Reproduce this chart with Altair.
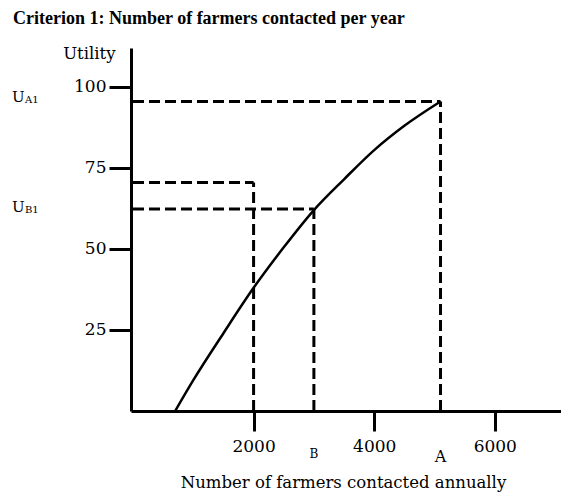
import altair as alt
import pandas as pd

# curve: number of farmers contacted annually vs utility
farmers = [700, 1000, 1500, 2000, 2500, 3000, 3500, 4000, 4500, 5100]
utility = [0, 9.5, 24, 38, 50.5, 62, 71.5, 80.5, 88, 95.5]

# reference lines (x value, utility level)
ref_x = [5100, 2000, 3000]
ref_u = [95.5, 70.5, 62.3]

y_ticks = [25, 50, 75, 100]
x_ticks = [2000, 4000, 6000]

u_labels = [("U", "A1", 97), ("U", "B1", 63)]
x_letters = [("B", 3000, 12, 406), ("A", 5100, 16, 409)]

X0 = -33
XMAX = 7098
YMAX = 112
SERIF = "DejaVu Serif"
TSERIF = "Liberation Serif"

curve_df = pd.DataFrame({"x": farmers, "u": utility})

segs = []
for xv, uv in zip(ref_x, ref_u):
    segs.append({"x": 0, "x2": xv, "y": uv, "y2": uv})
    segs.append({"x": xv, "x2": xv, "y": 0, "y2": uv})
seg_df = pd.DataFrame(segs)

xs = alt.Scale(domain=[X0, XMAX], nice=False, zero=False)
ys = alt.Scale(domain=[0, YMAX], nice=False)

curve = alt.Chart(curve_df).mark_line(
    color="black", strokeWidth=2.5, interpolate="monotone"
).encode(
    x=alt.X("x:Q", scale=xs, axis=alt.Axis(
        values=x_ticks, format="d", grid=False, tickSize=20, tickWidth=3,
        domainWidth=3, domainColor="black", tickColor="black", labelColor="black",
        labelFont=SERIF, labelFontSize=17, labelPadding=7,
        title="Number of farmers contacted annually", titleFont=SERIF,
        titleFontSize=16.5, titleFontWeight="normal", titleColor="black",
        titleX=212, titleY=71, titleBaseline="middle", titleAnchor="middle")),
    y=alt.Y("u:Q", scale=ys, axis=alt.Axis(
        values=y_ticks, grid=False, tickSize=22, tickWidth=3, domainWidth=3,
        domainColor="black", tickColor="black", labelColor="black",
        labelFont=SERIF, labelFontSize=17, labelPadding=3,
        title="Utility", titleAngle=0, titleAlign="right", titleX=-16, titleY=5,
        titleBaseline="middle", titleFont=SERIF, titleFontSize=16.5,
        titleFontWeight="normal", titleColor="black")),
)

dashed = alt.Chart(seg_df).mark_rule(
    color="black", strokeWidth=3, strokeDash=[11, 5]
).encode(x="x:Q", x2="x2:Q", y="y:Q", y2="y2:Q")

ulab_df = pd.DataFrame([{"main": a, "sub": b, "u": c} for a, b, c in u_labels])
u_main = alt.Chart(ulab_df).mark_text(
    font=SERIF, fontSize=15, color="black", align="left", baseline="middle"
).encode(x=alt.value(-119), y=alt.Y("u:Q", scale=ys), text="main:N")
u_sub = alt.Chart(ulab_df).mark_text(
    font=SERIF, fontSize=10, color="black", align="left", baseline="middle", dy=3
).encode(x=alt.value(-106), y=alt.Y("u:Q", scale=ys), text="sub:N")

let_df = pd.DataFrame([{"t": a, "x": b, "s": c, "yp": d} for a, b, c, d in x_letters])
letters = alt.Chart(let_df).mark_text(
    font=SERIF, color="black", baseline="middle"
).encode(x=alt.X("x:Q", scale=xs), y=alt.Y("yp:Q", scale=None),
         size=alt.Size("s:Q", scale=None, legend=None), text="t:N")

title_df = pd.DataFrame({"t": ["Criterion 1:  Number of farmers contacted per year"]})
title = alt.Chart(title_df).mark_text(
    font=TSERIF, fontSize=18, fontWeight="bold", color="black",
    align="left", baseline="alphabetic"
).encode(x=alt.value(-118), y=alt.value(-24), text="t:N")

chart = alt.layer(dashed, curve, u_main, u_sub, letters, title).properties(
    width=430, height=363,
    autosize=alt.AutoSizeParams(type="none"),
    padding={"left": 123, "top": 40, "right": 0, "bottom": 82},
).configure_view(stroke=None)

chart.save("out.html", embed_options={"renderer": "svg", "actions": False})
